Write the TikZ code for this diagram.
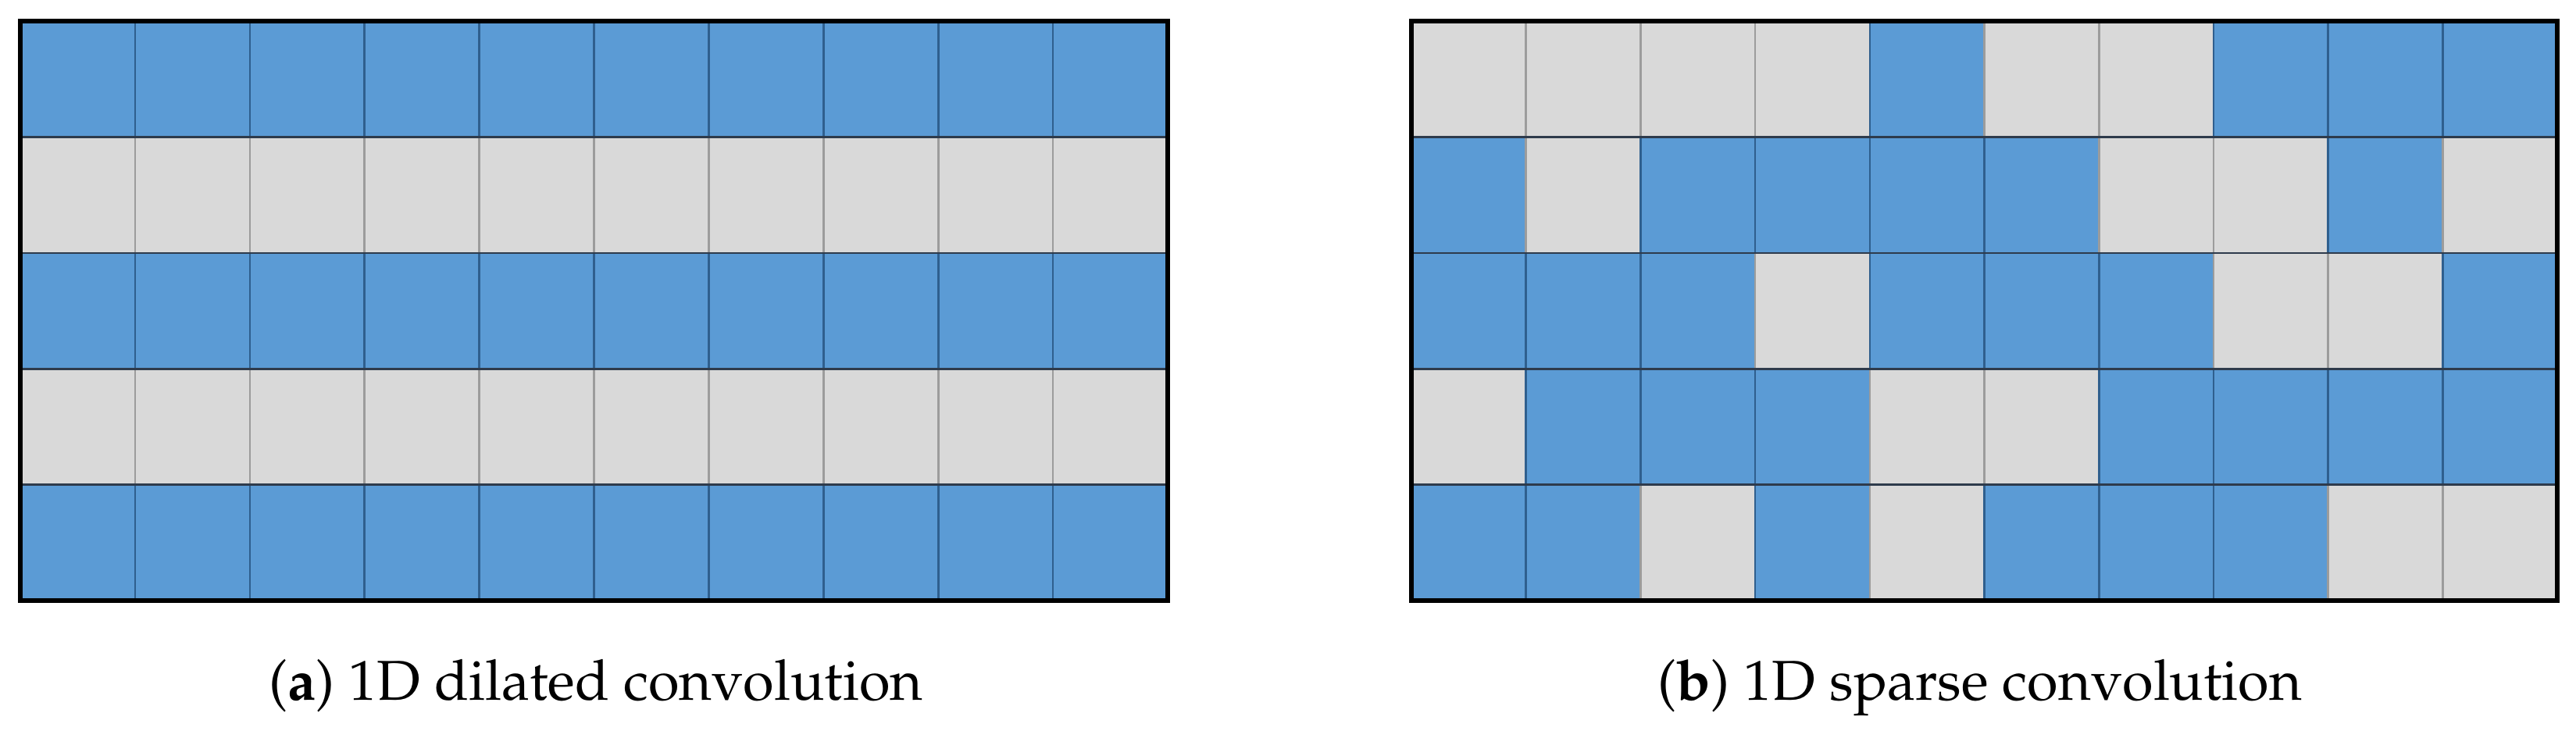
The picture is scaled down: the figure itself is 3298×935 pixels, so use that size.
\documentclass[tikz,border=0pt]{standalone}
\usepackage[T1]{fontenc}
\usepackage{mathpazo}
\definecolor{cblue}{HTML}{5B9BD5}
\definecolor{cgray}{HTML}{D9D9D9}
\definecolor{lblue}{HTML}{2F5F8E}
\definecolor{lgray}{HTML}{9C9C9C}
\definecolor{hsep}{HTML}{2E3B4C}
\tikzset{
  sep/.style={line width=2.6pt},
  frame/.style={draw=black, line width=6pt},
  caption/.style={anchor=base, inner sep=0pt, font=\fontsize{72}{86}\selectfont}
}
\newcommand\mygrid[3]{% x0, x1, rows
  \pgfmathsetmacro\gx{#1}
  \pgfmathsetmacro\gw{(#2-#1)/10}
  \foreach \row [count=\r from 0] in {#3} {
    \foreach \v [count=\c from 0] in \row {
      \ifnum\v=1 \def\fc{cblue}\def\lc{lblue}\else\def\fc{cgray}\def\lc{lgray}\fi
      \fill[\fc] (\gx+\c*\gw, 27+\r*148.4) rectangle (\gx+\c*\gw+\gw, 27+\r*148.4+148.4);
      \draw[sep, \lc] (\gx+\c*\gw, 27+\r*148.4) -- (\gx+\c*\gw, 27+\r*148.4+148.4);
    }
  }
  \foreach \r in {1,...,4} {
    \draw[sep, hsep] (#1, 27+\r*148.4) -- (#2, 27+\r*148.4);
  }
  \draw[frame] (#1,27) rectangle (#2,769);
}
\begin{document}
\begin{tikzpicture}[x=1pt,y=-1pt]
\useasboundingbox (0,0) rectangle (3298,935);
\mygrid{26}{1495}{{1,1,1,1,1,1,1,1,1,1},{0,0,0,0,0,0,0,0,0,0},{1,1,1,1,1,1,1,1,1,1},{0,0,0,0,0,0,0,0,0,0},{1,1,1,1,1,1,1,1,1,1}}
\mygrid{1807}{3274}{{0,0,0,0,1,0,0,1,1,1},{1,0,1,1,1,1,0,0,1,0},{1,1,1,0,1,1,1,0,0,1},{0,1,1,1,0,0,1,1,1,1},{1,1,0,1,0,1,1,1,0,0}}
\node[caption] (capa) at (763,896) {(\textbf{a}) 1D dilated convolution};
\node[caption] (capb) at (2535,896) {(\textbf{b}) 1D sparse convolution};
\end{tikzpicture}
\end{document}
